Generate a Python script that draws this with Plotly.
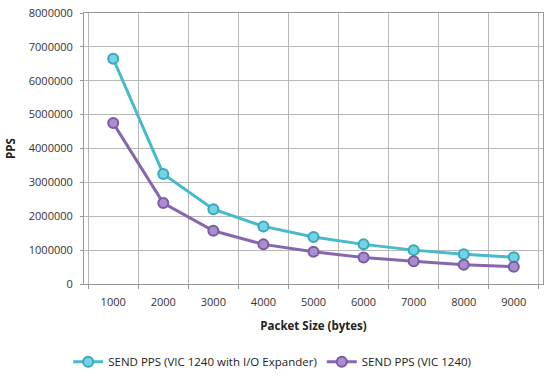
import plotly.graph_objects as go

packet_sizes = ["1000", "2000", "3000", "4000", "5000", "6000", "7000", "8000", "9000"]
pps_expander = [6650000, 3250000, 2210000, 1700000, 1390000, 1170000, 1000000, 880000, 790000]
pps_vic = [4750000, 2390000, 1570000, 1170000, 950000, 780000, 670000, 570000, 510000]

font_family = "Open Sans, Liberation Sans, sans-serif"

fig = go.Figure()
fig.add_trace(go.Scatter(
    x=packet_sizes, y=pps_expander, mode="lines+markers",
    name="SEND PPS (VIC 1240 with I/O Expander)",
    line=dict(color="#47bacb", width=3),
    marker=dict(size=10, color="#72d4e4", line=dict(color="#3aa8b9", width=2)),
))
fig.add_trace(go.Scatter(
    x=packet_sizes, y=pps_vic, mode="lines+markers",
    name="SEND PPS (VIC 1240)",
    line=dict(color="#8666ae", width=3),
    marker=dict(size=10, color="#a98dcf", line=dict(color="#7a5ca3", width=2)),
))

fig.update_layout(
    width=556, height=378,
    margin=dict(l=84, r=13, t=13, b=94, autoexpand=False),
    paper_bgcolor="white", plot_bgcolor="white",
    font=dict(family=font_family, size=11, color="#222"),
    showlegend=True,
    legend=dict(orientation="h", x=0.41, xanchor="center", y=-0.233, yanchor="top",
                font=dict(size=11.5), itemwidth=30, traceorder="normal"),
)
fig.update_xaxes(
    type="category", tickson="boundaries", showgrid=True, gridcolor="#b8b8b8", gridwidth=1,
    showline=True, linecolor="#999", ticks="outside", ticklen=4, tickcolor="#999",
    title=dict(text="<b>Packet Size (bytes)</b>", font=dict(size=11.5), standoff=13),
    tickfont=dict(size=11, color="#333"), mirror=True, automargin=False,
    ticklabelstandoff=8,
)
fig.update_yaxes(
    range=[0, 8000000], dtick=1000000, tickformat="d", showgrid=True,
    gridcolor="#b8b8b8", gridwidth=1, showline=True, linecolor="#999",
    ticks="outside", ticklen=3, tickcolor="#999", zeroline=False,
    title=dict(text="<b>PPS</b>", font=dict(size=11.5), standoff=10),
    tickfont=dict(size=11, color="#333"), mirror=True, automargin=False,
    ticklabelstandoff=5,
)

fig.write_html(
    "out.html",
    config={"displayModeBar": False},
    post_script="document.body.style.margin='0';document.body.style.overflow='hidden';",
)
